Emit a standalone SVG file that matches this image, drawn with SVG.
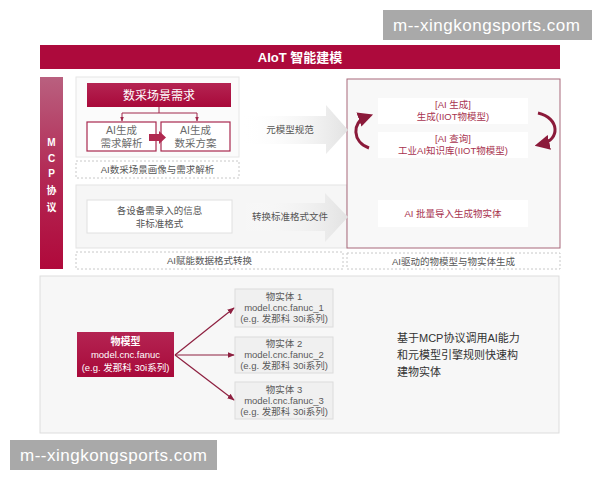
<svg xmlns="http://www.w3.org/2000/svg" width="600" height="480" viewBox="0 0 600 480">
<defs>
<style>
text{font-family:"Liberation Sans","Noto Sans CJK SC",sans-serif;}
.wm{font-size:17px;fill:#ffffff;}
.title{font-size:13px;font-weight:bold;fill:#ffffff;}
.wt{fill:#ffffff;text-anchor:middle;}
.rt{fill:#a8334f;text-anchor:middle;font-size:9.5px;}
.gt{fill:#555555;text-anchor:middle;font-size:9.5px;}
.bt{fill:#5a5a5a;text-anchor:middle;font-size:9.5px;}
.dash{fill:#ffffff;stroke:#c8c8c8;stroke-width:1;stroke-dasharray:2,2;}
.wbox{fill:#ffffff;stroke:#a8294f;stroke-width:1.2;}
.ent{fill:#f0f0f0;stroke:#dcdcdc;stroke-width:1;}
.conn{stroke:#8e2040;stroke-width:1.2;fill:none;}
</style>
<linearGradient id="mcp" x1="0" y1="0" x2="0" y2="1">
<stop offset="0" stop-color="#b9607f"/>
<stop offset="0.5" stop-color="#b32a55"/>
<stop offset="1" stop-color="#b0093b"/>
</linearGradient>
<linearGradient id="garr" x1="0" y1="0" x2="1" y2="0">
<stop offset="0" stop-color="#ffffff" stop-opacity="0"/>
<stop offset="1" stop-color="#e2e2e2"/>
</linearGradient>
<linearGradient id="redbox" x1="0" y1="0" x2="0" y2="1">
<stop offset="0" stop-color="#b42452"/>
<stop offset="1" stop-color="#a8093a"/>
</linearGradient>
<marker id="ah" viewBox="0 0 10 10" refX="9" refY="5" markerWidth="6" markerHeight="6" orient="auto">
<path d="M0,1 L10,5 L0,9 z" fill="#8e2040"/>
</marker>
<marker id="ah2" viewBox="0 0 10 10" refX="9" refY="5" markerWidth="5" markerHeight="5" orient="auto">
<path d="M0,1 L10,5 L0,9 z" fill="#a0284c"/>
</marker>
<marker id="ah3" viewBox="0 0 10 10" refX="5" refY="5" markerWidth="5" markerHeight="5" orient="auto">
<path d="M0,0 L10,5 L0,10 z" fill="#8b1a3a"/>
</marker>
</defs>

<rect width="600" height="480" fill="#ffffff"/>

<!-- watermarks -->
<g id="watermark-top">
<rect x="383" y="10" width="209" height="30" fill="#a9a9a9"/>
<text class="wm" x="393" y="31" textLength="187">m--xingkongsports.com</text>
</g>
<g id="watermark-bottom">
<rect x="10" y="440" width="207" height="30" fill="#a9a9a9"/>
<text class="wm" x="20" y="461" textLength="187">m--xingkongsports.com</text>
</g>

<!-- title -->
<g id="title">
<rect x="40" y="45" width="520" height="24" fill="#ad0a3c"/>
<text class="title" x="300" y="62" text-anchor="middle">AIoT 智能建模</text>
</g>

<!-- MCP bar -->
<g id="mcp-bar">
<rect x="40" y="77" width="23" height="192" fill="url(#mcp)"/>
<text class="wt" font-size="10" font-weight="bold" x="51.5" y="146">M</text>
<text class="wt" font-size="10" font-weight="bold" x="51.5" y="162">C</text>
<text class="wt" font-size="10" font-weight="bold" x="51.5" y="177">P</text>
<text class="wt" font-size="10" font-weight="bold" x="51.5" y="194">协</text>
<text class="wt" font-size="10" font-weight="bold" x="51.5" y="211">议</text>
</g>

<!-- row 1 panel -->
<g id="row1-panel">
<rect x="76" y="77" width="163" height="80" fill="#fbfbfb" stroke="#e6e6e6"/>
</g>
<g id="req">
<rect x="87" y="83" width="144" height="24" fill="url(#redbox)"/>
<text class="wt" font-size="12" x="159" y="100">数采场景需求</text>
</g>
<g id="analysis">
<rect class="wbox" x="87" y="122" width="69" height="29"/>
<text font-size="10.5" fill="#6a6a6a" text-anchor="middle" x="121.5" y="134">AI生成</text>
<text font-size="10.5" fill="#6a6a6a" text-anchor="middle" x="121.5" y="147">需求解析</text>
</g>
<g id="plan">
<rect class="wbox" x="161" y="122" width="69" height="29"/>
<text font-size="10.5" fill="#6a6a6a" text-anchor="middle" x="195.5" y="134">AI生成</text>
<text font-size="10.5" fill="#6a6a6a" text-anchor="middle" x="195.5" y="147">数采方案</text>
</g>
<g id="row1-label">
<rect class="dash" x="76" y="161" width="163" height="17"/>
<text class="gt" x="157.5" y="173">AI数采场景画像与需求解析</text>
</g>

<!-- row 2 panel -->
<g id="row2-panel">
<rect x="76" y="185" width="271" height="63" fill="#f6f6f6" stroke="#e3e3e3"/>
</g>
<g id="raw-info">
<rect x="87" y="200" width="145" height="33" fill="#ffffff" stroke="#e0e0e0"/>
<text class="gt" font-size="10" x="159.5" y="214">各设备需录入的信息</text>
<text class="gt" font-size="10" x="159.5" y="227">非标准格式</text>
</g>
<g id="row2-label">
<rect class="dash" x="76" y="252" width="267" height="17"/>
<text class="gt" x="209.5" y="264">AI赋能数据格式转换</text>
</g>

<!-- right panel -->
<g id="right-panel">
<rect x="347" y="79" width="213" height="169" fill="#f8f8f8" stroke="#a8687a" stroke-width="1"/>
</g>
<g id="gen">
<rect x="378" y="98" width="150" height="26" fill="#ffffff"/>
<text class="rt" x="453" y="108">[AI 生成]</text>
<text class="rt" x="453" y="120">生成(IIOT物模型)</text>
</g>
<g id="query">
<rect x="378" y="132" width="150" height="26" fill="#ffffff"/>
<text class="rt" x="453" y="142">[AI 查询]</text>
<text class="rt" x="453" y="154">工业AI知识库(IIOT物模型)</text>
</g>
<g id="import">
<rect x="378" y="200" width="150" height="27" fill="#ffffff"/>
<text class="rt" font-size="10" x="453" y="217">AI 批量导入生成物实体</text>
</g>
<g id="right-label">
<rect class="dash" x="347" y="253" width="213" height="16"/>
<text class="gt" x="453.5" y="265">AI驱动的物模型与物实体生成</text>
</g>

<!-- bottom panel -->
<g id="bottom-panel">
<rect x="40" y="276" width="519" height="157" fill="#f7f7f7" stroke="#dddddd"/>
</g>
<g id="model">
<rect x="77" y="332" width="97" height="45" fill="url(#redbox)"/>
<text class="wt" font-size="10" font-weight="bold" x="125.5" y="345">物模型</text>
<text class="wt" font-size="9.5" x="125.5" y="358">model.cnc.fanuc</text>
<text class="wt" font-size="9.5" x="125.5" y="371">(e.g. 发那科 30i系列)</text>
</g>
<g id="entity1">
<rect class="ent" x="235" y="289" width="98" height="38"/>
<text class="bt" x="284" y="300">物实体 1</text>
<text class="bt" x="284" y="311">model.cnc.fanuc_1</text>
<text class="bt" x="284" y="322">(e.g. 发那科 30i系列)</text>
</g>
<g id="entity2">
<rect class="ent" x="235" y="337" width="98" height="36"/>
<text class="bt" x="284" y="347">物实体 2</text>
<text class="bt" x="284" y="358">model.cnc.fanuc_2</text>
<text class="bt" x="284" y="369">(e.g. 发那科 30i系列)</text>
</g>
<g id="entity3">
<rect class="ent" x="235" y="382" width="98" height="37"/>
<text class="bt" x="284" y="393">物实体 3</text>
<text class="bt" x="284" y="404">model.cnc.fanuc_3</text>
<text class="bt" x="284" y="415">(e.g. 发那科 30i系列)</text>
</g>
<g id="note">
<text font-size="11" fill="#333333" x="397" y="342">基于MCP协议调用AI能力</text>
<text font-size="11" fill="#333333" x="397" y="359">和元模型引擎规则快速构</text>
<text font-size="11" fill="#333333" x="397" y="376">建物实体</text>
</g>

<!-- connectors -->
<g id="connectors">
<!-- big gray arrows -->
<polygon points="240,116 326,116 326,105 348,130 326,154 326,144 240,144" fill="url(#garr)"/>
<text class="gt" font-size="10" x="290" y="133">元模型规范</text>
<polygon points="240,203 325,203 325,193 348,217 325,242 325,231 240,231" fill="url(#garr)"/>
<text class="gt" font-size="10" x="290" y="220">转换标准格式文件</text>
<!-- tree from req -->
<path d="M159,107 V113 M122,113 H197" stroke="#a0284c" stroke-width="1" fill="none"/>
<path d="M122,113 V121" stroke="#a0284c" stroke-width="1" fill="none" marker-end="url(#ah2)"/>
<path d="M197,113 V121" stroke="#a0284c" stroke-width="1" fill="none" marker-end="url(#ah2)"/>
<!-- block arrow between boxes -->
<polygon points="149,134 159,134 159,131 166,137.5 159,144 159,141 149,141" fill="#b0294f"/>
<!-- cycle arrows -->
<path d="M369,148 C352,142 352,122 366,117" stroke="#8b1a3a" stroke-width="3" fill="none" marker-end="url(#ah3)"/>
<path d="M538,113 C560,118 560,140 542,144" stroke="#8b1a3a" stroke-width="3" fill="none" marker-end="url(#ah3)"/>
<!-- model to entities -->
<line class="conn" x1="175" y1="355" x2="234" y2="308" marker-end="url(#ah)"/>
<line class="conn" x1="175" y1="355" x2="234" y2="355" marker-end="url(#ah)"/>
<line class="conn" x1="175" y1="355" x2="234" y2="400" marker-end="url(#ah)"/>
</g>
</svg>
